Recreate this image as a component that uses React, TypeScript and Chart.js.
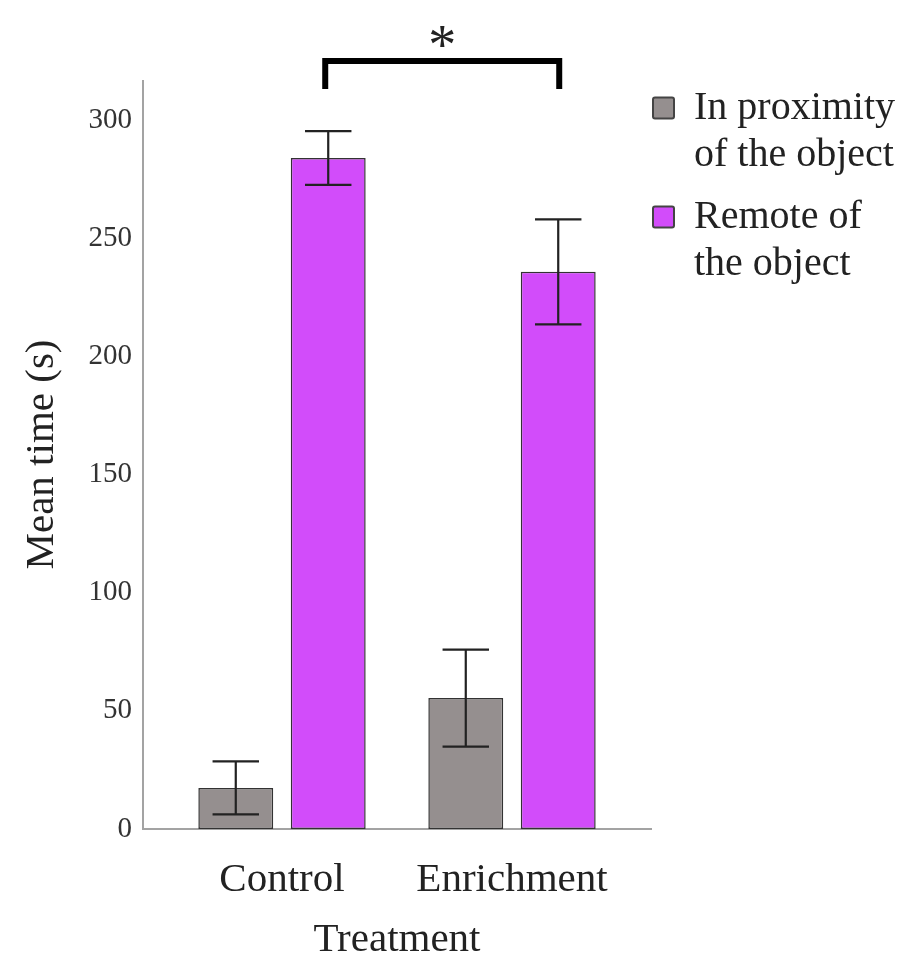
import React, { useEffect, useRef } from 'react';
import { Chart, registerables } from 'chart.js';

Chart.register(...registerables);

const categories = ['Control', 'Enrichment'];
const seriesLabels = [
  ['In proximity', 'of the object'],
  ['Remote of', 'the object'],
];
const proximityMeans = [17.4, 55.4];
const proximityErrors = [11.2, 20.5];
const remoteMeans = [284.0, 235.8];
const remoteErrors = [11.4, 22.2];
const yTickValues = [0, 50, 100, 150, 200, 250, 300];
const significanceMark = '*';
const xTitle = 'Treatment';
const yTitle = 'Mean time (s)';

const GRAY = '#958f8f';
const MAGENTA = '#d24cfa';
const AXIS = '#a3a3a3';
const FONT = "'Liberation Serif', 'Times New Roman', serif";
const TEXT = '#222';

// axis lines extend beyond the category band, as in the reference
const axisPlugin = {
  id: 'axisLines',
  beforeDatasetsDraw(chart: any) {
    const { ctx, chartArea } = chart;
    const left = chartArea.left - 24;
    const right = chartArea.right + 25;
    ctx.save();
    ctx.strokeStyle = AXIS;
    ctx.lineWidth = 2;
    ctx.beginPath();
    ctx.moveTo(left, chartArea.top);
    ctx.lineTo(left, chartArea.bottom);
    ctx.lineTo(right, chartArea.bottom);
    ctx.stroke();
    ctx.restore();
  },
};

const errorBarPlugin = {
  id: 'errorBars',
  afterDatasetsDraw(chart: any) {
    const { ctx } = chart;
    const yScale = chart.scales.y;
    const errs = [proximityErrors, remoteErrors];
    const means = [proximityMeans, remoteMeans];
    ctx.save();
    ctx.strokeStyle = '#222';
    ctx.lineWidth = 2.2;
    chart.data.datasets.forEach((_: any, di: number) => {
      const meta = chart.getDatasetMeta(di);
      meta.data.forEach((el: any, i: number) => {
        const x = el.x;
        const hi = yScale.getPixelForValue(means[di][i] + errs[di][i]);
        const lo = yScale.getPixelForValue(means[di][i] - errs[di][i]);
        const cap = el.width * 0.31;
        ctx.beginPath();
        ctx.moveTo(x, hi);
        ctx.lineTo(x, lo);
        ctx.moveTo(x - cap, hi);
        ctx.lineTo(x + cap, hi);
        ctx.moveTo(x - cap, lo);
        ctx.lineTo(x + cap, lo);
        ctx.stroke();
      });
    });
    ctx.restore();
  },
};

const bracketPlugin = {
  id: 'bracket',
  afterDraw(chart: any) {
    const { ctx, chartArea } = chart;
    const meta = chart.getDatasetMeta(1);
    const x1 = meta.data[0].x - 3;
    const x2 = meta.data[1].x + 1;
    const yLine = chartArea.top - 19;
    const yDrop = chartArea.top + 9;
    ctx.save();
    ctx.strokeStyle = '#000';
    ctx.lineWidth = 6;
    ctx.lineJoin = 'miter';
    ctx.beginPath();
    ctx.moveTo(x1, yDrop);
    ctx.lineTo(x1, yLine);
    ctx.lineTo(x2, yLine);
    ctx.lineTo(x2, yDrop);
    ctx.stroke();
    ctx.fillStyle = '#222';
    ctx.font = `56px ${FONT}`;
    ctx.textAlign = 'center';
    ctx.textBaseline = 'middle';
    ctx.fillText(significanceMark, (x1 + x2) / 2, yLine - 12);
    ctx.restore();
  },
};

const legendPlugin = {
  id: 'customLegend',
  afterDraw(chart: any) {
    const { ctx, chartArea } = chart;
    const colors = [GRAY, MAGENTA];
    const boxX = chartArea.right + 26;
    const textX = chartArea.right + 67;
    const startY = chartArea.top + 28;
    const lineH = 47;
    const groupH = 109;
    ctx.save();
    seriesLabels.forEach((lines, i) => {
      const cy = startY + i * groupH;
      ctx.fillStyle = colors[i];
      ctx.strokeStyle = '#444';
      ctx.lineWidth = 2;
      ctx.beginPath();
      ctx.roundRect(boxX, cy - 10.5, 21, 21, 2);
      ctx.fill();
      ctx.stroke();
      ctx.fillStyle = TEXT;
      ctx.font = `40px ${FONT}`;
      ctx.textAlign = 'left';
      ctx.textBaseline = 'middle';
      lines.forEach((t, k) => ctx.fillText(t, textX, cy + k * lineH));
    });
    ctx.restore();
  },
};

export default function App() {
  const ref = useRef<HTMLCanvasElement>(null);
  useEffect(() => {
    if (!ref.current) return;
    const chart = new Chart(ref.current, {
      type: 'bar',
      data: {
        labels: categories,
        datasets: [
          {
            label: seriesLabels[0].join(' '),
            data: proximityMeans,
            backgroundColor: GRAY,
            borderColor: '#333',
            borderWidth: 1.5,
            borderSkipped: false,
            barPercentage: 0.81,
            categoryPercentage: 0.804,
          },
          {
            label: seriesLabels[1].join(' '),
            data: remoteMeans,
            backgroundColor: MAGENTA,
            borderColor: '#333',
            borderWidth: 1.5,
            borderSkipped: false,
            barPercentage: 0.81,
            categoryPercentage: 0.804,
          },
        ],
      },
      options: {
        responsive: false,
        animation: false,
        devicePixelRatio: 1,
        layout: { padding: { top: 80, right: 282, left: 0, bottom: 0 } },
        plugins: { legend: { display: false }, tooltip: { enabled: false } },
        scales: {
          x: {
            type: 'category',
            offset: true,
            grid: { display: false, drawTicks: false },
            border: { display: false },
            afterFit: (scale: any) => {
              scale.height = 129;
            },
            ticks: {
              autoSkip: false,
              maxRotation: 0,
              padding: 27,
              color: TEXT,
              font: { family: FONT, size: 41 },
            },
            title: {
              display: true,
              text: xTitle,
              color: TEXT,
              font: { family: FONT, size: 41, lineHeight: 1 },
              padding: { top: 0, bottom: -3 },
            },
          },
          y: {
            min: 0,
            max: 317,
            grid: { display: false, drawTicks: false },
            border: { display: false },
            afterBuildTicks: (scale: any) => {
              scale.ticks = yTickValues.map((v) => ({ value: v }));
            },
            afterFit: (scale: any) => {
              scale.width = 167;
            },
            ticks: {
              padding: 35,
              color: '#333',
              font: { family: FONT, size: 29 },
            },
            title: {
              display: true,
              text: yTitle,
              color: TEXT,
              font: { family: FONT, size: 41, lineHeight: 1 },
              padding: { top: 21.5, bottom: 0 },
            },
          },
        },
      },
      plugins: [axisPlugin, errorBarPlugin, bracketPlugin, legendPlugin],
    } as any);
    return () => chart.destroy();
  }, []);

  return (
    <div style={{ position: 'absolute', left: 0, top: 0, width: 909, height: 958, background: '#fff' }}>
      <canvas ref={ref} width={909} height={958} style={{ display: 'block' }} />
    </div>
  );
}
